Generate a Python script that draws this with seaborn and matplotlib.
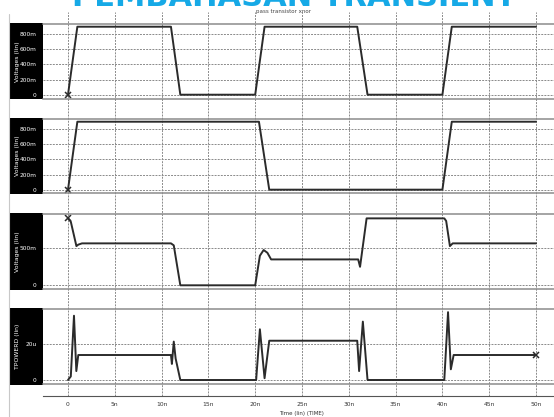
import numpy as np
import pandas as pd
import matplotlib
matplotlib.use("Agg")
import matplotlib.pyplot as plt
from matplotlib.patches import Rectangle
from matplotlib.lines import Line2D
from matplotlib.ticker import MultipleLocator
import seaborn as sns

sns.set_theme(style="white")
plt.rcParams['font.family'] = ['DejaVu Sans']

# ---------------- data (time in ns) ----------------
t1 = [0, 1.0, 11.0, 12.0, 20.0, 21.0, 30.9, 32.0, 40.0, 41.0, 50.0]
v1 = [0, 0.90, 0.90, 0, 0, 0.90, 0.90, 0, 0, 0.90, 0.90]

t2 = [0, 1.0, 20.4, 21.5, 40.0, 41.0, 50.0]
v2 = [0, 0.90, 0.90, 0, 0, 0.90, 0.90]

t3 = [0, 0.3, 0.9, 1.1, 1.5, 11.0, 11.3, 12.0, 20.0, 20.5, 20.9, 21.3, 21.7,
      31.0, 31.2, 31.9, 32.1, 40.2, 40.4, 40.8, 41.1, 50.0]
v3 = [0.905, 0.86, 0.53, 0.55, 0.567, 0.567, 0.54, 0, 0, 0.40, 0.477, 0.44, 0.35,
      0.35, 0.25, 0.905, 0.905, 0.905, 0.87, 0.53, 0.567, 0.567]

t4 = [0, 0.3, 0.64, 0.89, 1.1, 11.0, 11.1, 11.3, 11.5, 12.0, 20.1, 20.5, 21.0, 21.5,
      30.9, 31.1, 31.5, 32.0, 40.2, 40.6, 40.9, 41.2, 50.0]
p4 = [0, 2.0, 36.0, 5.0, 14.0, 14.0, 9.0, 21.5, 12.0, 0, 0, 28.4, 1.0, 22.0,
      22.0, 5.0, 32.7, 0, 0, 38.0, 6.0, 14.0, 14.0]

v_ticks = [0, 0.2, 0.4, 0.6, 0.8]
v_ticklabels = ["0", "200m", "400m", "600m", "800m"]
v3_ticks = [0, 0.5]
v3_ticklabels = ["0", "500m"]
p_ticks = [0, 20]
p_ticklabels = ["0", "20u"]
x_ticks = [0, 5, 10, 15, 20, 25, 30, 35, 40, 45, 50]
x_ticklabels = ["0", "5n", "10n", "15n", "20n", "25n", "30n", "35n", "40n", "45n", "50n"]

# ---------------- layout ----------------
W, H = 554, 417
fig = plt.figure(figsize=(W / 100, H / 100), dpi=100)
fig.patch.set_facecolor("white")
XL = (-2.67, 51.92)
AX_L = 43

def fx(px):
    return px / W

def fy(py):
    return 1 - py / H

def add_axes_px(x0, y_top, x1, y_bot, **kw):
    return fig.add_axes([fx(x0), fy(y_bot), fx(x1) - fx(x0), (y_bot - y_top) / H], **kw)

grid_kw = dict(color="#8a8a8a", lw=0.7, ls=(0, (2.0, 1.2)))

# background axes with vertical grid lines through whole figure
bg = add_axes_px(AX_L, 12, W, 396)
bg.set_xlim(*XL)
bg.set_ylim(0, 1)
bg.set_xticks(x_ticks)
bg.set_yticks([])
bg.xaxis.grid(True, **grid_kw)
bg.tick_params(axis="x", length=0, labelbottom=False)
for s in bg.spines.values():
    s.set_visible(False)
bg.patch.set_alpha(0)

# left faint border
fig.add_artist(Line2D([fx(9), fx(9)], [fy(14), 0], color="#c8c8c8", lw=0.8))

panels = [
    dict(t=t1, v=v1, top=24.3, bot=98.7, ylim=(-0.053, 0.932), ticks=v_ticks,
         labels=v_ticklabels, ylabel="Voltages (lin)", mark=(0, 0)),
    dict(t=t2, v=v2, top=119.0, bot=193.3, ylim=(-0.048, 0.936), ticks=v_ticks,
         labels=v_ticklabels, ylabel="Voltages (lin)", mark=(0, 0)),
    dict(t=t3, v=v3, top=214.3, bot=289.0, ylim=(-0.05, 0.96), ticks=v3_ticks,
         labels=v3_ticklabels, ylabel="Voltages (lin)", mark=(0, 0.905)),
    dict(t=t4, v=p4, top=309.3, bot=384.0, ylim=(-2.24, 39.6), ticks=p_ticks,
         labels=p_ticklabels, ylabel="TPOWERD (lin)", mark=(50, 14.0)),
]

for p in panels:
    # black label box
    fig.add_artist(Rectangle((fx(9), fy(p["bot"] + 0.5)), fx(42.5) - fx(9),
                             (p["bot"] - p["top"] + 1.5) / H, transform=fig.transFigure,
                             facecolor="black", edgecolor="none", zorder=-1))
    ax = add_axes_px(AX_L, p["top"], W, p["bot"])
    ax.patch.set_alpha(0)
    df = pd.DataFrame({"t": p["t"], "v": p["v"]})
    sns.lineplot(data=df, x="t", y="v", ax=ax, color="#2b2b2b", lw=1.4,
                 estimator=None, sort=False)
    ax.plot([p["mark"][0]], [p["mark"][1]], marker="x", ms=4, mew=1.1,
            color="#2b2b2b", ls="none")
    ax.set_xlim(*XL)
    ax.set_ylim(*p["ylim"])
    ax.set_yticks(p["ticks"])
    ax.set_yticklabels(p["labels"])
    ax.set_xticks([])
    ax.yaxis.grid(True, **grid_kw)
    ax.tick_params(axis="y", colors="white", labelcolor="white", labelsize=4.2,
                   length=2.5, width=0.6, pad=2, direction="out")
    ax.set_xlabel("")
    ax.set_ylabel("")
    for side in ("left", "right"):
        ax.spines[side].set_visible(False)
    for side in ("top", "bottom"):
        ax.spines[side].set_color("#8c8c8c")
        ax.spines[side].set_linewidth(1.1)
    yc = (p["top"] + p["bot"]) / 2
    fig.text(fx(17), fy(yc), p["ylabel"], rotation=90, color="white",
             fontsize=4.4, ha="center", va="center")

# bottom time axis
tax = add_axes_px(AX_L, 390, W, 396)
tax.patch.set_alpha(0)
tax.set_xlim(*XL)
tax.set_ylim(0, 1)
tax.set_yticks([])
for side in ("left", "right", "top"):
    tax.spines[side].set_visible(False)
tax.spines["bottom"].set_color("#555555")
tax.spines["bottom"].set_linewidth(0.8)
tax.set_xticks(x_ticks)
tax.set_xticklabels(x_ticklabels)
tax.xaxis.set_minor_locator(MultipleLocator(0.5))
tax.tick_params(axis="x", which="major", direction="in", length=3, width=0.6,
                color="#555555", labelsize=4.3, pad=4, labelcolor="#333333")
tax.tick_params(axis="x", which="minor", direction="in", length=1.8, width=0.5,
                color="#555555")
fig.text(fx(301), fy(413), "Time (lin) (TIME)", fontsize=4.0, color="#333333",
         ha="center", va="center")

# titles
fig.text(fx(284), fy(12), "pass transistor xnor", fontsize=4.0, color="#444444",
         ha="center", va="center")
fig.text(fx(294), fy(6.5), "PEMBAHASAN TRANSIENT", fontsize=22, fontweight="bold",
         color="#16a9e6", ha="center", va="baseline")

fig.savefig("out.png", dpi=100)
